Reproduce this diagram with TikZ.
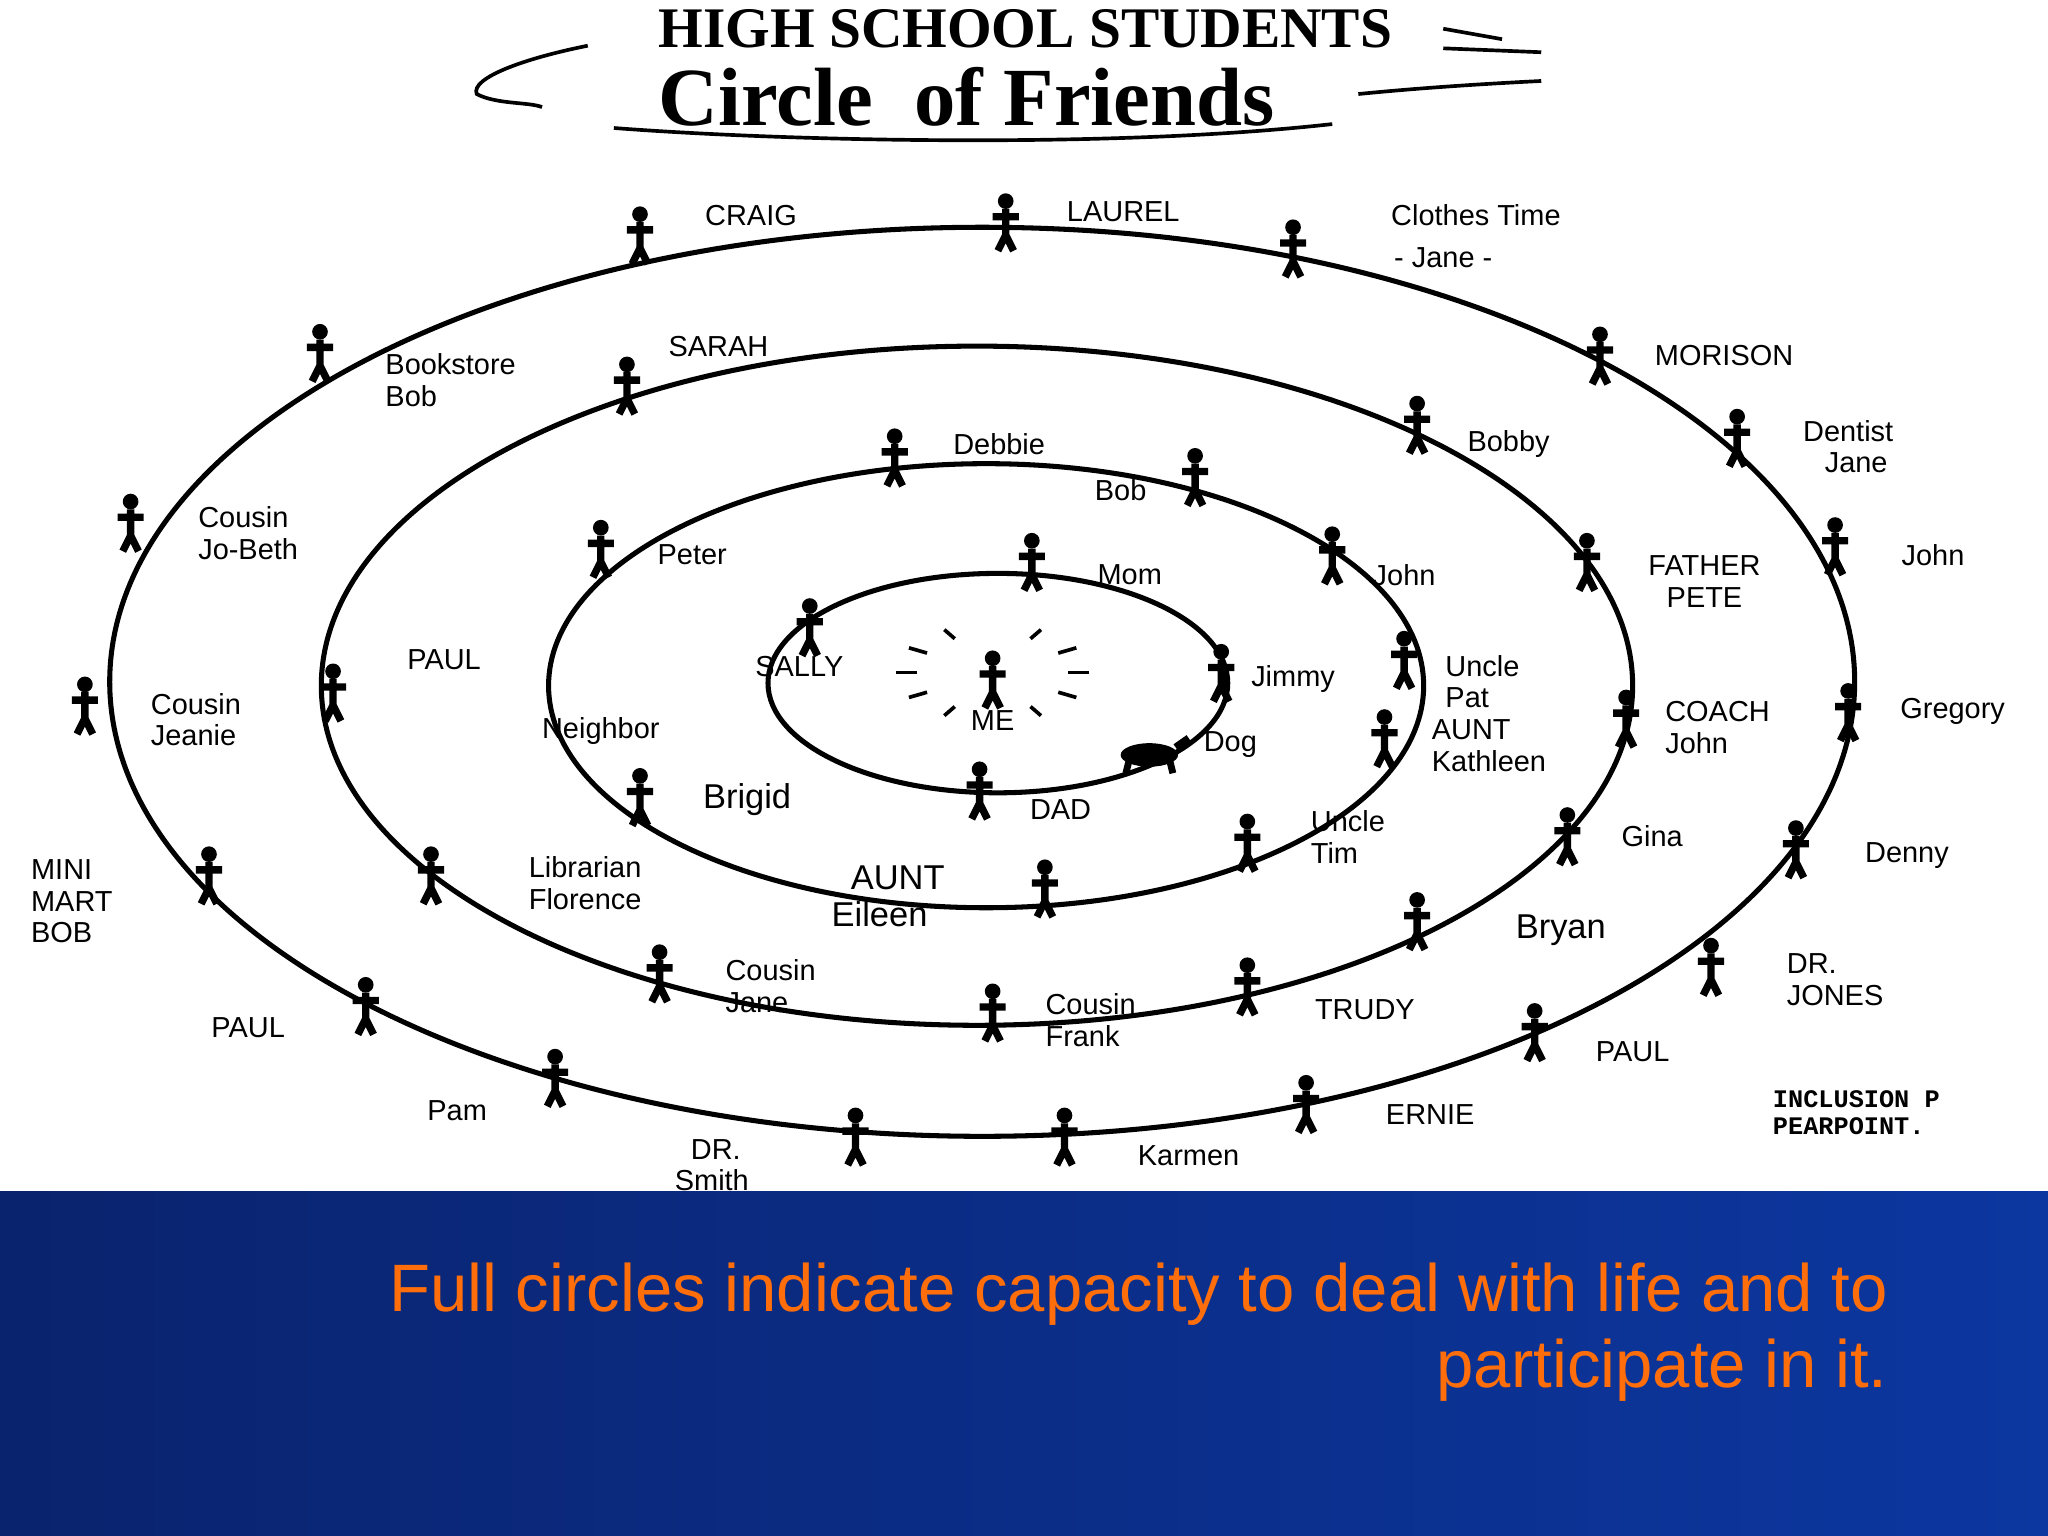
\documentclass[tikz,border=0pt]{standalone}
\usepackage{fontspec}
\setmainfont{Liberation Sans}
\newfontfamily\serifb{Liberation Serif}
\newfontfamily\monob{Liberation Mono}
\definecolor{bandL}{RGB}{10,35,110}
\definecolor{bandR}{RGB}{12,55,160}
\definecolor{capcol}{RGB}{255,110,10}
\begin{document}
\begin{tikzpicture}[x=0.01cm,y=-0.01cm,
  lbl/.style={font=\fontsize{6.3}{6.9}\selectfont, inner sep=0pt},
  big/.style={font=\fontsize{7.5}{8}\selectfont},
  ring/.style={line width=1.1pt},
  stick/.pic={
    \fill (0,-16) circle (6);
    \draw[line width=1.6pt] (0,-10)--(0,10) (-10,-4)--(10,-4) (0,10)--(-6,22) (0,10)--(6,22);
  }]
\useasboundingbox (0,0) rectangle (1568,1176);
\fill[white] (0,0) rectangle (1568,912);
\shade[left color=bandL, right color=bandR] (0,912) rectangle (1568,1176);
% title
\node[font=\serifb\bfseries\fontsize{12.5}{13}\selectfont, inner sep=1pt] (t1) at (785,22) {HIGH SCHOOL STUDENTS};
\node[font=\serifb\bfseries\fontsize{18}{19}\selectfont, inner sep=1pt] (t2) at (740,74) {Circle \ of Friends};
\draw[line width=0.8pt] (450,35) .. controls (400,45) and (360,60) .. (365,72) .. controls (380,80) and (405,78) .. (415,82);
\draw[line width=0.8pt] (1105,22) -- (1150,30) (1105,37)--(1180,40) (1040,72) .. controls (1090,67) and (1140,64) .. (1180,62);
\draw[line width=0.8pt] (470,98) .. controls (600,108) and (850,114) .. (1020,95);
% rings
\draw[ring] (764,523) ellipse [x radius=176, y radius=84];
\draw[ring] (755,525) ellipse [x radius=335, y radius=170];
\draw[ring] (748,525) ellipse [x radius=502, y radius=260];
\draw[ring] (752,522) ellipse [x radius=668, y radius=348];
% figures
\foreach \p in {(490,180),(770,170),(990,190),(1225,272),(1330,335),(1405,418),(1415,545),(1375,650),(1310,740),(1175,790),(1000,845),(815,870),(655,870),(425,825),(280,770),(160,670),(65,540),(100,400),(245,270),
(480,295),(1085,325),(1215,430),(1245,550),(1200,640),(1085,705),(955,755),(760,775),(505,745),(330,670),(255,530),(460,420),
(685,350),(915,365),(1020,425),(1075,505),(1060,565),(955,645),(800,680),(490,610),
(790,430),(620,480),(935,515),(750,605),(760,520)}
  \pic at \p {stick};
\fill (880,578) ellipse [x radius=22, y radius=9];
\draw[line width=1.5pt] (865,580)--(862,592) (895,580)--(898,592) (900,572)--(910,565);
\foreach \a in {0,30,150,180,210,330,-60,-120,60,120}
  \draw[line width=0.8pt] (760,515) ++(\a:58 and 30) -- ++(\a:16 and 8);
% labels
\node[lbl] (craig) at (575,165) {CRAIG};
\node[lbl] (laurel) at (860,162) {LAUREL};
\node[lbl] (ct) at (1130,165) {Clothes Time};
\node[lbl] (jane) at (1105,197) {- Jane -};
\node[lbl] (mor) at (1320,272) {MORISON};
\node[lbl,align=center] (dj) at (1415,342) {Dentist\\ \ \ Jane};
\node[lbl] (john1) at (1480,425) {John};
\node[lbl] (greg) at (1495,545) {Gregory};
\node[lbl] (denny) at (1460,655) {Denny};
\node[lbl,align=left] (drj) at (1405,750) {DR.\\JONES};
\node[lbl] (paul1) at (1250,805) {PAUL};
\node[lbl] (ernie) at (1095,853) {ERNIE};
\node[lbl] (karmen) at (910,885) {Karmen};
\node[lbl,align=left] (drs) at (545,892) {\ \ DR.\\Smith};
\node[lbl] (pam) at (350,850) {Pam};
\node[lbl] (paul2) at (190,787) {PAUL};
\node[lbl,align=left] (mmb) at (55,690) {MINI\\MART\\BOB};
\node[lbl,align=left] (cjn) at (150,551) {Cousin\\Jeanie};
\node[lbl,align=left] (cjb) at (190,408) {Cousin\\Jo-Beth};
\node[lbl,align=left] (bb) at (345,291) {Bookstore\\Bob};
\node[lbl] (sarah) at (550,265) {SARAH};
\node[lbl] (bobby) at (1155,340) {Bobby};
\node[lbl,align=center] (fp) at (1305,445) {FATHER\\PETE};
\node[lbl,align=left] (cj) at (1315,557) {COACH\\John};
\node[lbl] (gina) at (1265,640) {Gina};
\node[lbl,big] (bryan) at (1195,712) {Bryan};
\node[lbl] (trudy) at (1045,773) {TRUDY};
\node[lbl,align=left] (cf) at (835,781) {Cousin\\Frank};
\node[lbl,align=left] (cjane) at (590,755) {Cousin\\Jane};
\node[lbl,align=left] (lf) at (448,676) {Librarian\\Florence};
\node[lbl] (paul3) at (340,505) {PAUL};
\node[lbl] (peter) at (530,425) {Peter};
\node[lbl] (debbie) at (765,340) {Debbie};
\node[lbl] (bob) at (858,375) {Bob};
\node[lbl] (john2) at (1075,440) {John};
\node[lbl,align=left] (up) at (1135,522) {Uncle\\Pat};
\node[lbl,align=left] (ak) at (1140,571) {AUNT\\Kathleen};
\node[lbl,align=left] (ut) at (1032,641) {Uncle\\Tim};
\node[lbl,align=left,big] (ae) at (680,686) {\ \ AUNT\\Eileen};
\node[lbl,big] (brigid) at (572,612) {Brigid};
\node[lbl] (neigh) at (460,560) {Neighbor};
\node[lbl] (mom) at (865,440) {Mom};
\node[lbl] (sally) at (612,510) {SALLY};
\node[lbl] (jimmy) at (990,520) {Jimmy};
\node[lbl] (dog) at (942,570) {Dog};
\node[lbl] (dad) at (812,620) {DAD};
\node[lbl] (me) at (760,552) {ME};
\node[font=\monob\bfseries\fontsize{5.5}{6}\selectfont, anchor=west, align=left] (inc) at (1345,852) {INCLUSION P\\PEARPOINT.};
% caption
\node[font=\fontsize{14.6}{16.5}\selectfont, text=capcol, align=right, anchor=north east, inner sep=0pt] (cap) at (1446,966) {Full circles indicate capacity to deal with life and to\\participate in it.};
\end{tikzpicture}
\end{document}
